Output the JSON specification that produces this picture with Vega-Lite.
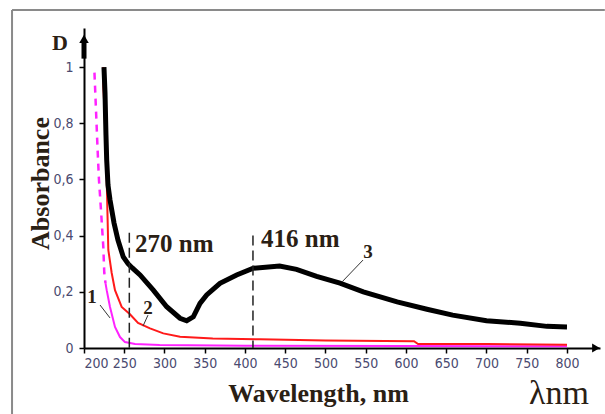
{
  "$schema": "https://vega.github.io/schema/vega-lite/v6.json",
  "width": 516,
  "height": 320,
  "autosize": {"type": "none"},
  "padding": {"left": 84, "top": 28, "right": 5, "bottom": 66},
  "background": "white",
  "config": {"view": {"stroke": null}},
  "datasets": {
    "curves": [
      {"s": "1", "p": "dash", "x": 213, "y": 0.98},
      {"s": "1", "p": "dash", "x": 214.9, "y": 0.847},
      {"s": "1", "p": "dash", "x": 216.8, "y": 0.712},
      {"s": "1", "p": "dash", "x": 218.6, "y": 0.598},
      {"s": "1", "p": "dash", "x": 221.1, "y": 0.491},
      {"s": "1", "p": "dash", "x": 224, "y": 0.359},
      {"s": "1", "p": "dash", "x": 225.2, "y": 0.267},
      {"s": "1", "p": "dash", "x": 226.7, "y": 0.231},
      {"s": "1", "p": "solid", "x": 226.7, "y": 0.231},
      {"s": "1", "p": "solid", "x": 228.2, "y": 0.206},
      {"s": "1", "p": "solid", "x": 232.3, "y": 0.146},
      {"s": "1", "p": "solid", "x": 238.5, "y": 0.075},
      {"s": "1", "p": "solid", "x": 244.7, "y": 0.039},
      {"s": "1", "p": "solid", "x": 250.9, "y": 0.021},
      {"s": "1", "p": "solid", "x": 263.4, "y": 0.014},
      {"s": "1", "p": "solid", "x": 294, "y": 0.011},
      {"s": "1", "p": "solid", "x": 400, "y": 0.008},
      {"s": "1", "p": "solid", "x": 600, "y": 0.007},
      {"s": "1", "p": "solid", "x": 800, "y": 0.006},
      {"s": "2", "p": "solid", "x": 224, "y": 1.0},
      {"s": "2", "p": "solid", "x": 224, "y": 0.93},
      {"s": "2", "p": "solid", "x": 225.5, "y": 0.85},
      {"s": "2", "p": "solid", "x": 226.7, "y": 0.74},
      {"s": "2", "p": "solid", "x": 228.2, "y": 0.6},
      {"s": "2", "p": "solid", "x": 229.2, "y": 0.473},
      {"s": "2", "p": "solid", "x": 230.2, "y": 0.349},
      {"s": "2", "p": "solid", "x": 234.4, "y": 0.267},
      {"s": "2", "p": "solid", "x": 238.5, "y": 0.206},
      {"s": "2", "p": "solid", "x": 246.8, "y": 0.146},
      {"s": "2", "p": "solid", "x": 257.1, "y": 0.12},
      {"s": "2", "p": "solid", "x": 267.1, "y": 0.089},
      {"s": "2", "p": "solid", "x": 282, "y": 0.07},
      {"s": "2", "p": "solid", "x": 298.5, "y": 0.052},
      {"s": "2", "p": "solid", "x": 319.3, "y": 0.04},
      {"s": "2", "p": "solid", "x": 360, "y": 0.034},
      {"s": "2", "p": "solid", "x": 418.6, "y": 0.031},
      {"s": "2", "p": "solid", "x": 500, "y": 0.027},
      {"s": "2", "p": "solid", "x": 610, "y": 0.024},
      {"s": "2", "p": "solid", "x": 615, "y": 0.014},
      {"s": "2", "p": "solid", "x": 700, "y": 0.014},
      {"s": "2", "p": "solid", "x": 800, "y": 0.012},
      {"s": "3", "p": "solid", "x": 224.8, "y": 1.0},
      {"s": "3", "p": "solid", "x": 226.1, "y": 0.907},
      {"s": "3", "p": "solid", "x": 227.3, "y": 0.758},
      {"s": "3", "p": "solid", "x": 228.2, "y": 0.669},
      {"s": "3", "p": "solid", "x": 229.8, "y": 0.58},
      {"s": "3", "p": "solid", "x": 232.3, "y": 0.527},
      {"s": "3", "p": "solid", "x": 237.3, "y": 0.445},
      {"s": "3", "p": "solid", "x": 242.2, "y": 0.384},
      {"s": "3", "p": "solid", "x": 248.8, "y": 0.324},
      {"s": "3", "p": "solid", "x": 254.7, "y": 0.3},
      {"s": "3", "p": "solid", "x": 260, "y": 0.285},
      {"s": "3", "p": "solid", "x": 269.6, "y": 0.26},
      {"s": "3", "p": "solid", "x": 286.1, "y": 0.206},
      {"s": "3", "p": "solid", "x": 302.7, "y": 0.147},
      {"s": "3", "p": "solid", "x": 319.3, "y": 0.106},
      {"s": "3", "p": "solid", "x": 327.6, "y": 0.097},
      {"s": "3", "p": "solid", "x": 335.8, "y": 0.111},
      {"s": "3", "p": "solid", "x": 344.1, "y": 0.159},
      {"s": "3", "p": "solid", "x": 352.4, "y": 0.189},
      {"s": "3", "p": "solid", "x": 368.9, "y": 0.23},
      {"s": "3", "p": "solid", "x": 389.6, "y": 0.26},
      {"s": "3", "p": "solid", "x": 410.3, "y": 0.284},
      {"s": "3", "p": "solid", "x": 443, "y": 0.292},
      {"s": "3", "p": "solid", "x": 464, "y": 0.28},
      {"s": "3", "p": "solid", "x": 489, "y": 0.255},
      {"s": "3", "p": "solid", "x": 518, "y": 0.231},
      {"s": "3", "p": "solid", "x": 547, "y": 0.2},
      {"s": "3", "p": "solid", "x": 589, "y": 0.164},
      {"s": "3", "p": "solid", "x": 626, "y": 0.138},
      {"s": "3", "p": "solid", "x": 658, "y": 0.117},
      {"s": "3", "p": "solid", "x": 700, "y": 0.097},
      {"s": "3", "p": "solid", "x": 742, "y": 0.088},
      {"s": "3", "p": "solid", "x": 775, "y": 0.077},
      {"s": "3", "p": "solid", "x": 800, "y": 0.075}
    ],
    "marks": [
      {"x": 256.3, "y": 0.41},
      {"x": 409.9, "y": 0.4}
    ],
    "leaders": [
      {"x": 219.9, "y": 0.153, "x2": 232.3, "y2": 0.107},
      {"x": 279.5, "y": 0.117, "x2": 273.3, "y2": 0.078},
      {"x": 546.6, "y": 0.313, "x2": 520.5, "y2": 0.235}
    ],
    "peaks": [
      {"t": "270 nm", "x": 263.4, "y": 0.342},
      {"t": "416 nm", "x": 419.9, "y": 0.359}
    ],
    "nums": [
      {"t": "1", "x": 210, "y": 0.181},
      {"t": "2", "x": 279.5, "y": 0.142},
      {"t": "3", "x": 552.8, "y": 0.342}
    ],
    "one": [{}]
  },
  "layer": [
    {
      "data": {"name": "one"},
      "mark": {"type": "rule", "color": "#8a8a8a", "strokeWidth": 2},
      "encoding": {
        "x": {"datum": 110.6, "type": "quantitative", "scale": {"domain": [200, 841], "nice": false, "zero": false}},
        "y": {"datum": -0.235, "type": "quantitative", "scale": {"domain": [0, 1.139], "nice": false}},
        "y2": {"datum": 1.203}
      }
    },
    {
      "data": {"name": "one"},
      "mark": {"type": "rule", "color": "#8a8a8a", "strokeWidth": 2},
      "encoding": {
        "x": {"datum": 110.6, "type": "quantitative"},
        "x2": {"datum": 847},
        "y": {"datum": 1.203, "type": "quantitative"}
      }
    },
    {
      "data": {"name": "curves"},
      "transform": [{"filter": "datum.s == '1' && datum.p == 'dash'"}],
      "mark": {"type": "line", "color": "#ff22ff", "strokeWidth": 2.5, "strokeDash": [7, 6]},
      "encoding": {
        "x": {"field": "x", "type": "quantitative",
          "scale": {"domain": [200, 841], "nice": false, "zero": false},
          "axis": {
            "values": [200, 250, 300, 350, 400, 450, 500, 550, 600, 650, 700, 750, 800],
            "grid": false, "domainColor": "#000", "domainWidth": 2,
            "tickColor": "#000", "tickSize": 5, "tickWidth": 1.5,
            "labelFont": "Liberation Sans Narrow, DejaVu Sans Condensed, Liberation Sans",
            "labelFontSize": 14, "labelColor": "#4a4a70", "labelPadding": 3,
            "labelOverlap": false,
            "title": "Wavelength, nm", "titleFont": "Liberation Serif", "titleFontWeight": "bold",
            "titleFontSize": 26, "titleColor": "#2a2014", "titleX": 234, "titleY": 45,
            "titleBaseline": "middle", "titleAlign": "center", "titleAnchor": null
          }
        },
        "y": {"field": "y", "type": "quantitative",
          "scale": {"domain": [0, 1.139], "nice": false},
          "axis": {
            "values": [0, 0.2, 0.4, 0.6, 0.8, 1],
            "labelExpr": "replace(format(datum.value, '~g'), '.', ',')",
            "grid": false, "domainColor": "#000", "domainWidth": 2,
            "tickColor": "#000", "tickSize": 5, "tickWidth": 1.5,
            "labelFont": "Liberation Sans Narrow, DejaVu Sans Condensed, Liberation Sans",
            "labelFontSize": 14, "labelColor": "#4a4a70", "labelPadding": 6,
            "title": "Absorbance", "titleFont": "Liberation Serif", "titleFontWeight": "bold",
            "titleFontSize": 26, "titleColor": "#2a2014", "titleX": -44, "titleY": 155,
            "titleBaseline": "middle", "titleAlign": "center", "titleAnchor": null, "titleAngle": -90
          }
        }
      }
    },
    {
      "data": {"name": "curves"},
      "transform": [{"filter": "datum.s == '1' && datum.p == 'solid'"}],
      "mark": {"type": "line", "color": "#ff22ff", "strokeWidth": 2},
      "encoding": {"x": {"field": "x", "type": "quantitative"}, "y": {"field": "y", "type": "quantitative"}}
    },
    {
      "data": {"name": "curves"},
      "transform": [{"filter": "datum.s == '2'"}],
      "mark": {"type": "line", "color": "#ff1a1a", "strokeWidth": 2},
      "encoding": {"x": {"field": "x", "type": "quantitative"}, "y": {"field": "y", "type": "quantitative"}}
    },
    {
      "data": {"name": "curves"},
      "transform": [{"filter": "datum.s == '3'"}],
      "mark": {"type": "line", "color": "#000000", "strokeWidth": 5},
      "encoding": {"x": {"field": "x", "type": "quantitative"}, "y": {"field": "y", "type": "quantitative"}}
    },
    {
      "data": {"name": "marks"},
      "mark": {"type": "rule", "color": "#222", "strokeWidth": 1.5, "strokeDash": [10, 5]},
      "encoding": {"x": {"field": "x", "type": "quantitative"}, "y": {"field": "y", "type": "quantitative"}, "y2": {"datum": 0}}
    },
    {
      "data": {"name": "leaders"},
      "mark": {"type": "rule", "color": "#333", "strokeWidth": 1},
      "encoding": {"x": {"field": "x", "type": "quantitative"}, "y": {"field": "y", "type": "quantitative"}, "x2": {"field": "x2"}, "y2": {"field": "y2"}}
    },
    {
      "data": {"name": "peaks"},
      "mark": {"type": "text", "font": "Liberation Serif", "fontWeight": "bold", "fontSize": 25, "align": "left", "baseline": "alphabetic", "color": "#2a2014"},
      "encoding": {"x": {"field": "x", "type": "quantitative"}, "y": {"field": "y", "type": "quantitative"}, "text": {"field": "t"}}
    },
    {
      "data": {"name": "nums"},
      "mark": {"type": "text", "font": "Liberation Serif", "fontWeight": "bold", "fontSize": 19, "align": "center", "baseline": "middle", "color": "#2a2014"},
      "encoding": {"x": {"field": "x", "type": "quantitative"}, "y": {"field": "y", "type": "quantitative"}, "text": {"field": "t"}}
    },
    {
      "data": {"name": "one"},
      "mark": {"type": "text", "font": "Liberation Serif", "fontWeight": "bold", "fontSize": 22, "align": "center", "baseline": "middle", "color": "#2a2014"},
      "encoding": {"x": {"datum": 170.2, "type": "quantitative"}, "y": {"datum": 1.085, "type": "quantitative"}, "text": {"value": "D"}}
    },
    {
      "data": {"name": "one"},
      "mark": {"type": "text", "font": "Liberation Serif", "fontSize": 34, "align": "center", "baseline": "middle", "color": "#2a2014"},
      "encoding": {"x": {"datum": 790, "type": "quantitative"}, "y": {"datum": -0.165, "type": "quantitative"}, "text": {"value": "λnm"}}
    },
    {
      "data": {"name": "one"},
      "mark": {"type": "rule", "color": "#000", "strokeWidth": 5},
      "encoding": {"x": {"datum": 200, "type": "quantitative"}, "y": {"datum": 1.03, "type": "quantitative"}, "y2": {"datum": 1.09}}
    },
    {
      "data": {"name": "one"},
      "mark": {"type": "point", "shape": "triangle-up", "filled": true, "color": "#000", "size": 90, "opacity": 1},
      "encoding": {"x": {"datum": 200, "type": "quantitative"}, "y": {"datum": 1.1, "type": "quantitative"}}
    },
    {
      "data": {"name": "one"},
      "mark": {"type": "point", "shape": "triangle-right", "filled": true, "color": "#000", "size": 80, "opacity": 1},
      "encoding": {"x": {"datum": 836, "type": "quantitative"}, "y": {"datum": 0, "type": "quantitative"}}
    }
  ]
}
